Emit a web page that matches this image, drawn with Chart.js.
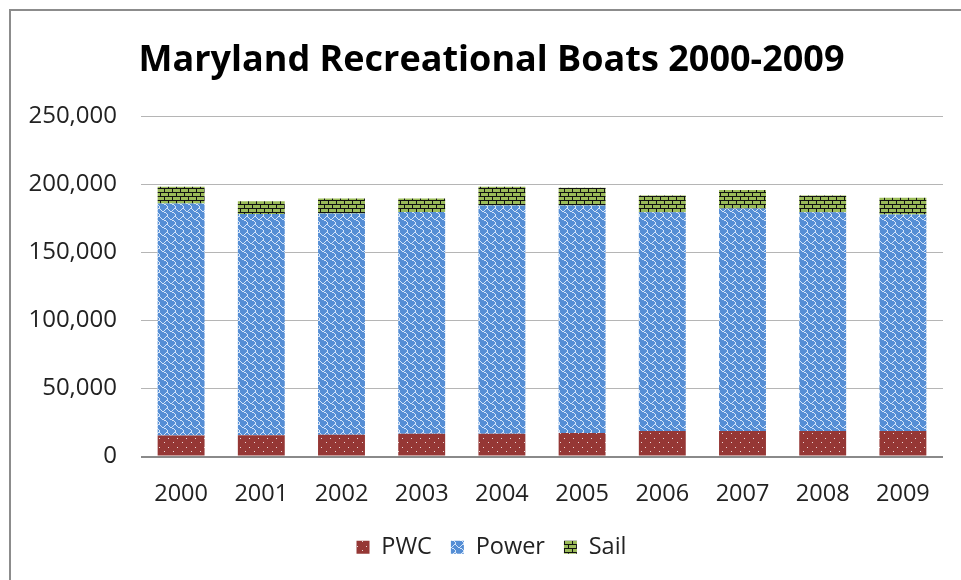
<!DOCTYPE html>
<html>
<head>
<meta charset="utf-8">
<script src="https://cdn.jsdelivr.net/npm/chart.js@4"></script>
<style>
  html, body { margin: 0; padding: 0; background: #fff; }
  #wrap { position: relative; width: 961px; height: 580px; overflow: hidden; }
  #frame { position: absolute; left: 9px; top: 9px; width: 1000px; height: 600px;
           border-left: 2px solid #8c8c8c; border-top: 2px solid #8c8c8c; }
  canvas { position: absolute; left: 0; top: 0; }
</style>
</head>
<body>
<div id="wrap">
  <div id="frame"></div>
  <canvas id="barChart" width="961" height="580"></canvas>
</div>
<script>
const years = ['2000', '2001', '2002', '2003', '2004', '2005', '2006', '2007', '2008', '2009'];
const pwc = [15500, 15700, 16000, 16700, 16700, 17200, 18700, 18700, 18700, 18700];
const power = [170300, 162500, 162500, 163000, 167700, 167200, 160700, 163500, 160700, 159000];
const sail = [12300, 9300, 11100, 9800, 13800, 13100, 12300, 13500, 12300, 12300];
const yTicks = [0, 50000, 100000, 150000, 200000, 250000];

// pequenos padroes de preenchimento, parecidos com os do Excel
function makePattern(size, bg, draw) {
    const c = document.createElement('canvas');
    c.width = size; c.height = size;
    const g = c.getContext('2d');
    g.fillStyle = bg;
    g.fillRect(0, 0, size, size);
    draw(g);
    return g.createPattern(c, 'repeat');
}

// 8x8 bitmap, bit 7 = coluna 0
function bits(g, rows, color) {
    g.fillStyle = color;
    rows.forEach((r, y) => {
        for (let x = 0; x < 8; x++) {
            if (r & (0x80 >> x)) g.fillRect(x, y, 1, 1);
        }
    });
}

const pwcFill = makePattern(9, '#953735', g => {
    g.fillStyle = 'rgba(255,255,255,0.8)';
    g.fillRect(2, 1, 1, 1);
    g.fillRect(6, 6, 1, 1);
});

const powerFill = makePattern(8, '#558ed5', g => {
    bits(g, [0x03, 0x84, 0x48, 0x30, 0x0c, 0x02, 0x01, 0x01], 'rgba(225,236,252,0.9)');
});

const sailFill = makePattern(8, '#9bbb59', g => {
    g.fillStyle = '#111';
    g.fillRect(0, 0, 8, 1);
    g.fillRect(0, 4, 8, 1);
    g.fillRect(0, 1, 1, 3);
    g.fillRect(4, 5, 1, 3);
});

const ctx = document.getElementById('barChart').getContext('2d');

new Chart(ctx, {
    type: 'bar',
    data: {
        labels: years,
        datasets: [
            { label: 'PWC', data: pwc, backgroundColor: pwcFill },
            { label: 'Power', data: power, backgroundColor: powerFill },
            { label: 'Sail', data: sail, backgroundColor: sailFill }
        ]
    },
    options: {
        responsive: false,
        animation: false,
        layout: { padding: { left: 40, right: 18, top: 22, bottom: 11 } },
        datasets: { bar: { categoryPercentage: 1, barPercentage: 0.585 } },
        scales: {
            x: {
                stacked: true,
                grid: { display: false },
                border: { display: false },
                afterFit: scale => { scale.height = 60; },
                ticks: { color: '#222', font: { family: 'Open Sans', size: 23.5 }, padding: 16 }
            },
            y: {
                stacked: true,
                min: 0,
                max: 250000,
                afterBuildTicks: scale => { scale.ticks = yTicks.map(v => ({ value: v })); },
                afterFit: scale => {
                    scale.width = 101;
                    scale._computeLabelArea = () => undefined; // labels may run left of the axis box
                },
                grid: {
                    drawTicks: false,
                    color: c => c.tick && c.tick.value === 0 ? '#8a8a8a' : '#b5b5b5',
                    lineWidth: c => c.tick && c.tick.value === 0 ? 2 : 1
                },
                border: { display: false },
                ticks: {
                    color: '#222',
                    padding: 24,
                    font: { family: 'Open Sans', size: 24 },
                    callback: v => v.toLocaleString('en-US')
                }
            }
        },
        plugins: {
            title: {
                display: true,
                text: 'Maryland Recreational Boats 2000-2009',
                color: '#000',
                font: { family: 'Open Sans', size: 36, weight: 'bold' },
                padding: { top: 17, bottom: 34 }
            },
            legend: {
                position: 'bottom',
                labels: {
                    color: '#222',
                    font: { family: 'Open Sans', size: 23.5 },
                    boxWidth: 13,
                    boxHeight: 13,
                    padding: 19
                }
            },
            tooltip: { enabled: false }
        }
    }
});
</script>
</body>
</html>
